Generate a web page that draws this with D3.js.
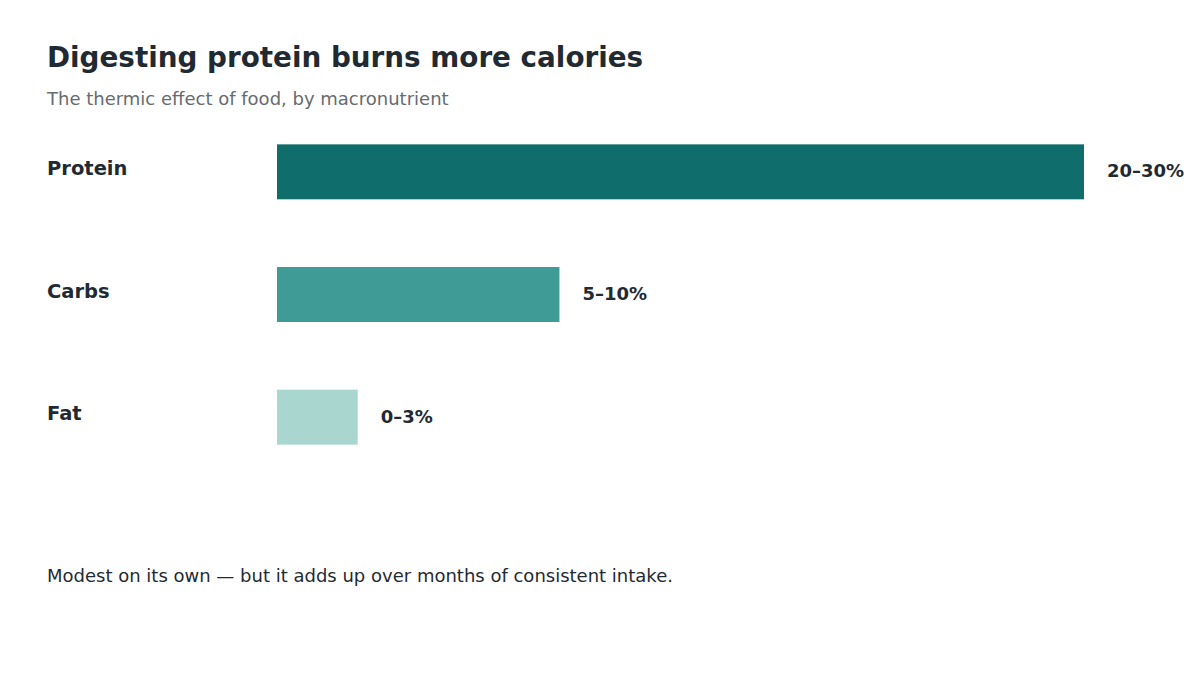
<!DOCTYPE html>
<html>
<head>
<meta charset="utf-8">
<script src="https://cdn.jsdelivr.net/npm/d3@7.9.0/dist/d3.min.js"></script>
<style>
  html, body { margin: 0; padding: 0; background: #fff; }
  svg { display: block; font-family: "DejaVu Sans", sans-serif; }
</style>
</head>
<body>
<svg id="chart" width="1200" height="675"></svg>
<script>
// data
const categories = ["Protein", "Carbs", "Fat"];
const barValues = [30, 10.5, 3];
const rangeLabels = ["20–30%", "5–10%", "0–3%"];
const barColors = ["#0f6e6c", "#3f9b95", "#a9d6cf"];

const title = "Digesting protein burns more calories";
const subtitle = "The thermic effect of food, by macronutrient";
const note = "Modest on its own — but it adds up over months of consistent intake.";

const svg = d3.select("#chart");
const textColor = "#1f2a32";

svg.append("text")
  .attr("x", 47).attr("y", 67)
  .attr("font-size", 27.8).attr("font-weight", "bold")
  .attr("fill", textColor)
  .text(title);

svg.append("text")
  .attr("x", 47).attr("y", 105)
  .attr("font-size", 18)
  .attr("fill", "#666b70")
  .text(subtitle);

const x = d3.scaleLinear()
  .domain([0, d3.max(barValues)])
  .range([277, 1084]);

const y = d3.scaleBand()
  .domain(categories)
  .range([110.5, 478.5])
  .paddingInner(0.552)
  .paddingOuter(0.276);

const rows = svg.selectAll("g.row")
  .data(categories)
  .enter()
  .append("g")
  .attr("class", "row");

rows.append("rect")
  .attr("x", x(0))
  .attr("y", d => y(d))
  .attr("width", (d, i) => x(barValues[i]) - x(0))
  .attr("height", y.bandwidth())
  .attr("fill", (d, i) => barColors[i]);

rows.append("text")
  .attr("x", 47)
  .attr("y", d => y(d) + y.bandwidth() / 2 + 3)
  .attr("font-size", 19.5)
  .attr("font-weight", "bold")
  .attr("fill", textColor)
  .text(d => d);

rows.append("text")
  .attr("x", (d, i) => x(barValues[i]) + 23)
  .attr("y", d => y(d) + y.bandwidth() / 2 + 5.5)
  .attr("font-size", 18)
  .attr("font-weight", "bold")
  .attr("fill", textColor)
  .text((d, i) => rangeLabels[i]);

svg.append("text")
  .attr("x", 47).attr("y", 582)
  .attr("font-size", 18)
  .attr("fill", textColor)
  .text(note);
</script>
</body>
</html>
